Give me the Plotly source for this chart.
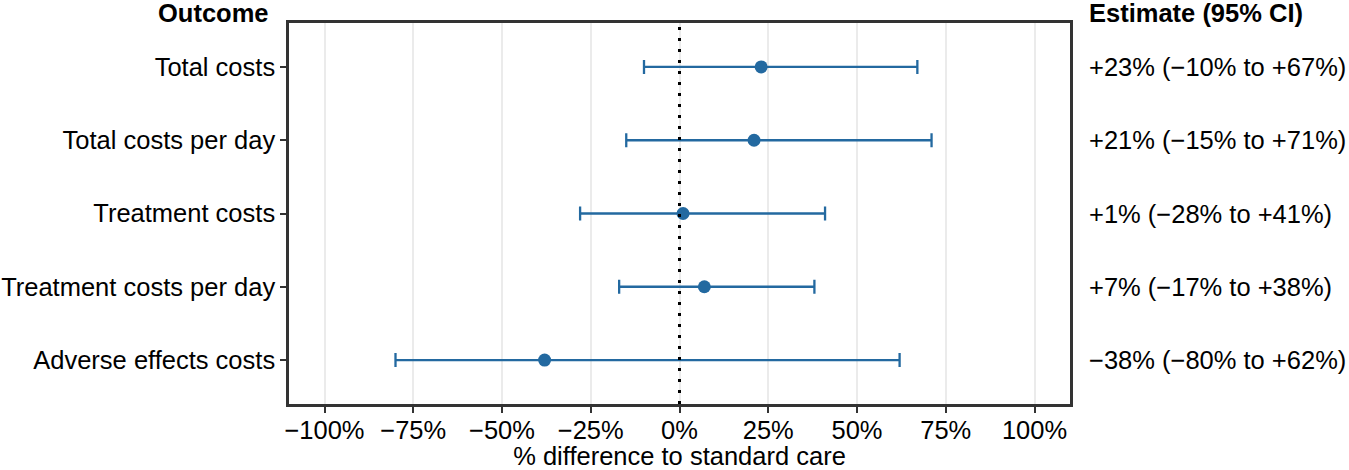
import plotly.graph_objects as go

# outcomes, top to bottom
outcomes = ["Total costs", "Total costs per day", "Treatment costs",
            "Treatment costs per day", "Adverse effects costs"]
estimate = [23, 21, 1, 7, -38]
ci_low = [-10, -15, -28, -17, -80]
ci_high = [67, 71, 41, 38, 62]

tick_vals = [-100, -75, -50, -25, 0, 25, 50, 75, 100]
tick_text = ["\u2212100%", "\u221275%", "\u221250%", "\u221225%", "0%", "25%", "50%", "75%", "100%"]

blue = "#2369A0"
dark = "#333333"
font = "Liberation Sans, Arial, sans-serif"
fsize = 25.5


def fmt(v):
    if v > 0:
        return "+%d%%" % v
    if v < 0:
        return "\u2212%d%%" % abs(v)
    return "0%"


fig = go.Figure()

# dotted reference line at 0
fig.add_shape(type="line", x0=0, x1=0, y0=0, y1=1, xref="x", yref="paper",
              line=dict(color="black", width=3, dash="3px,8px"), layer="above")

fig.add_trace(go.Scatter(
    x=estimate,
    y=outcomes,
    mode="markers",
    marker=dict(color=blue, size=13),
    error_x=dict(
        type="data",
        symmetric=False,
        array=[h - e for h, e in zip(ci_high, estimate)],
        arrayminus=[e - l for e, l in zip(estimate, ci_low)],
        color=blue,
        thickness=2.3,
        width=7,
    ),
    showlegend=False,
    hoverinfo="skip",
))

# estimate column on the right
for name, e, lo, hi in zip(outcomes, estimate, ci_low, ci_high):
    fig.add_annotation(
        x=1, xref="paper", xanchor="left", xshift=17,
        y=name, yref="y",
        text="%s (%s to %s)" % (fmt(e), fmt(lo), fmt(hi)),
        showarrow=False,
        font=dict(size=fsize, color="black", family=font),
    )

# column headers
fig.add_annotation(x=0, xref="paper", xanchor="right", xshift=-18,
                   y=1, yref="paper", yanchor="middle", yshift=10,
                   text="<b>Outcome</b>", showarrow=False,
                   font=dict(size=fsize, color="black", family=font))
fig.add_annotation(x=1, xref="paper", xanchor="left", xshift=17,
                   y=1, yref="paper", yanchor="middle", yshift=10,
                   text="<b>Estimate (95% CI)</b>", showarrow=False,
                   font=dict(size=fsize, color="black", family=font))

fig.update_xaxes(
    range=[-110, 110],
    tickvals=tick_vals,
    ticktext=tick_text,
    showgrid=True, gridcolor="#EBEBEB", gridwidth=2,
    zeroline=False,
    showline=True, linecolor=dark, linewidth=2.5, mirror=True,
    ticks="outside", ticklen=6, tickwidth=2, tickcolor=dark,
    ticklabelstandoff=-4,
    automargin=False,
    tickfont=dict(size=fsize, color="black", family=font),
    title=dict(text="% difference to standard care", standoff=12,
               font=dict(size=fsize, color="black", family=font)),
)
fig.update_yaxes(
    type="category",
    categoryorder="array", categoryarray=outcomes,
    range=[4.6, -0.6],
    showgrid=False, zeroline=False,
    showline=True, linecolor=dark, linewidth=2.5, mirror=True,
    ticks="outside", ticklen=6, tickwidth=2, tickcolor=dark,
    ticklabelstandoff=0,
    automargin=False,
    tickfont=dict(size=fsize, color="black", family=font),
)

fig.update_layout(
    width=1349, height=470,
    margin=dict(l=289, r=279, t=23, b=66),
    plot_bgcolor="white",
    paper_bgcolor="white",
    font=dict(family=font),
)

# drop the default page margin so the figure fills the window
fig.write_html("out.html", config={"displayModeBar": False},
               post_script="document.body.style.margin='0';")
